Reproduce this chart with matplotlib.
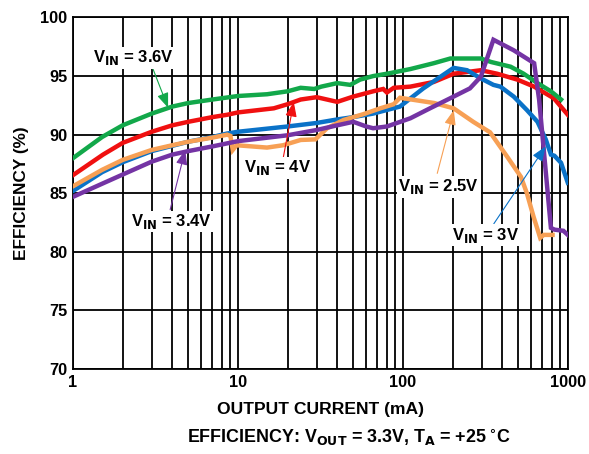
import matplotlib
matplotlib.use("Agg")
import matplotlib.pyplot as plt
from matplotlib.ticker import FixedLocator, LogLocator, NullFormatter

plt.rcParams['font.family'] = ['Liberation Sans Narrow', 'Liberation Sans', 'DejaVu Sans']
plt.rcParams['font.weight'] = 'bold'
plt.rcParams['mathtext.fontset'] = 'custom'
plt.rcParams['mathtext.rm'] = 'Liberation Sans Narrow:bold'
plt.rcParams['mathtext.bf'] = 'Liberation Sans Narrow:bold'
plt.rcParams['mathtext.it'] = 'Liberation Sans Narrow:bold'

# ---- data ----
green_x = [1, 1.5, 2, 3, 4, 5, 7, 10, 15, 20, 24, 29, 32, 40, 48, 55, 66, 80, 111, 154, 194, 297, 343, 450, 540, 655, 790, 910]
green_y = [88.0, 89.8, 90.8, 91.8, 92.4, 92.7, 93.0, 93.3, 93.45, 93.7, 94.0, 93.9, 94.1, 94.4, 94.25, 94.7, 95.0, 95.2, 95.6, 96.1, 96.5, 96.5, 96.2, 95.8, 95.2, 94.4, 93.7, 93.0]

red_x = [1, 1.52, 2, 3, 4, 5, 7, 8.6, 10, 16.5, 20, 24, 30, 40, 50, 66, 76, 80, 88, 111, 154, 203, 297, 373, 494, 625, 824, 1000]
red_y = [86.55, 88.3, 89.3, 90.25, 90.8, 91.1, 91.5, 91.7, 91.9, 92.25, 92.6, 93.0, 93.2, 92.8, 93.25, 93.7, 93.9, 93.6, 94.0, 94.1, 94.5, 95.2, 95.5, 95.2, 94.7, 94.1, 93.1, 91.7]

blue_x = [1, 1.5, 2, 3, 5, 7, 8.6, 10, 20, 30, 40, 50, 66, 96, 133, 203, 245, 297, 354, 390, 470, 565, 655, 735, 790, 830, 910, 1000]
blue_y = [85.2, 86.8, 87.65, 88.6, 89.4, 89.8, 90.1, 90.25, 90.7, 91.0, 91.3, 91.5, 91.8, 92.4, 93.95, 95.7, 95.5, 94.8, 94.25, 94.1, 93.25, 92.1, 91.1, 89.6, 88.3, 88.2, 87.6, 85.9]

orange_x = [1, 1.5, 2, 3, 4, 5, 7, 8.6, 9.0, 9.3, 9.8, 15, 18.8, 24, 29.5, 34.7, 43.6, 57.6, 73, 88, 96, 155, 203, 267, 338, 430, 520, 565, 620, 680, 715, 808]
orange_y = [85.6, 87.0, 87.85, 88.7, 89.1, 89.4, 89.75, 90.0, 89.9, 88.7, 89.1, 88.9, 89.1, 89.55, 89.6, 90.55, 91.25, 91.75, 92.25, 92.6, 93.15, 92.7, 92.25, 91.1, 90.2, 88.1, 86.4, 85.0, 83.0, 81.2, 81.45, 81.45]

purple_x = [1, 1.52, 2, 3, 4, 5, 7, 10, 20, 30, 40, 50, 60, 66, 80, 111, 146, 203, 255, 297, 354, 470, 625, 670, 715, 790, 830, 940, 1000]
purple_y = [84.7, 85.85, 86.6, 87.7, 88.3, 88.6, 89.0, 89.45, 89.95, 90.4, 90.8, 91.1, 90.7, 90.55, 90.7, 91.4, 92.25, 93.25, 93.95, 94.95, 98.1, 97.2, 96.1, 93.0, 88.7, 82.05, 81.9, 81.8, 81.45]

x_ticks = [1, 10, 100, 1000]
x_tick_labels = ['1', '10', '100', '1000']
y_ticks = [70, 75, 80, 85, 90, 95, 100]

GREEN = '#12a84a'
RED = '#f01010'
BLUE = '#0a72c8'
ORANGE = '#f7a055'
PURPLE = '#7434a4'

fig = plt.figure(figsize=(5.89, 4.54), dpi=100)
ax = fig.add_axes([0.124, 0.187, 0.840, 0.7745])

ax.set_xscale('log')
ax.set_xlim(1, 1000)
ax.set_ylim(70, 100)

for xs, ys, c in [(red_x, red_y, RED), (green_x, green_y, GREEN), (blue_x, blue_y, BLUE),
                  (orange_x, orange_y, ORANGE), (purple_x, purple_y, PURPLE)]:
    ax.plot(xs, ys, color=c, lw=3.2, solid_joinstyle='miter', zorder=3)

ax.xaxis.set_major_locator(FixedLocator(x_ticks))
ax.set_xticklabels(x_tick_labels)
ax.xaxis.set_minor_locator(LogLocator(base=10, subs=range(2, 10)))
ax.xaxis.set_minor_formatter(NullFormatter())
ax.set_yticks(y_ticks)
ax.grid(True, which='both', axis='x', color='black', lw=1.3)
ax.grid(True, which='major', axis='y', color='black', lw=1.3)
ax.tick_params(which='both', length=0, labelsize=11.8, pad=4)
for s in ax.spines.values():
    s.set_linewidth(1.3)
    s.set_color('black')
for lab in ax.get_xticklabels() + ax.get_yticklabels():
    lab.set_fontweight('bold')

ax.set_xlabel('OUTPUT CURRENT (mA)', fontsize=12.6, fontweight='bold', labelpad=9)
ax.set_ylabel('EFFICIENCY (%)', fontsize=12.4, fontweight='bold', labelpad=8)

fig.text(0.592, 0.035, r'EFFICIENCY: V$_{\mathrm{OUT}}$ = 3.3V, T$_{\mathrm{A}}$ = +25$\,^{\circ}$C',
         ha='center', va='center', fontsize=12.9, fontweight='bold')

labels = [
    (r'V$_{\mathrm{IN}}$ = 3.6V', 2.31, 96.55, (3.02, 95.78), (3.77, 92.3), GREEN),
    (r'V$_{\mathrm{IN}}$ = 4V', 17.45, 87.16, (18.8, 88.0), (21.8, 92.8), RED),
    (r'V$_{\mathrm{IN}}$ = 3.4V', 3.94, 82.58, (3.88, 83.6), (4.79, 88.7), PURPLE),
    (r'V$_{\mathrm{IN}}$ = 2.5V', 165, 85.56, (161.6, 86.7), (203.7, 92.1), ORANGE),
    (r'V$_{\mathrm{IN}}$ = 3V', 317, 81.44, (356, 82.4), (734, 89.0), BLUE),
]
for txt, tx, ty, tail, tip, c in labels:
    ax.annotate('', xy=tip, xytext=tail,
                arrowprops=dict(arrowstyle='-|>,head_length=0.9,head_width=0.35', color=c, lw=0.8,
                                shrinkA=0, shrinkB=0), zorder=4)
    ax.text(tx, ty, txt, ha='center', va='center', fontsize=12, fontweight='bold',
            bbox=dict(facecolor='white', edgecolor='none', pad=1.0), zorder=5)

fig.savefig('out.png', dpi=100)
